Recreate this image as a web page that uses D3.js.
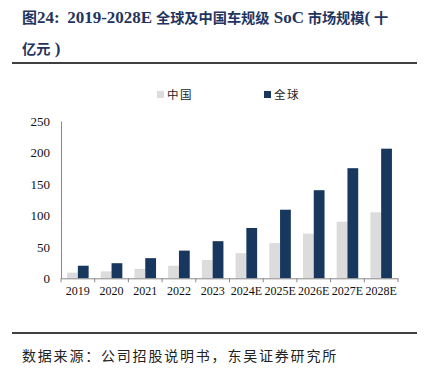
<!DOCTYPE html>
<html><head><meta charset="utf-8">
<script src="https://cdn.jsdelivr.net/npm/d3@7"></script>
<style>body{margin:0;background:#fff}svg{display:block}</style>
</head><body>
<script>
const categories = ["2019","2020","2021","2022","2023","2024E","2025E","2026E","2027E","2028E"];
const chinaValues = [9,11,15,20,29,40,56,71,90,105];
const globalValues = [20,24,32,44,59,80,109,140,175,206];
const yTicks = [0,50,100,150,200,250];
const seriesNames = ["中国","全球"];
const colors = ["#dcdcdc","#17375e"];

const W=430,H=368;
const svg=d3.select("body").append("svg").attr("width",W).attr("height",H);

// title: mixed-size runs
const titleRuns=[
  ["图",15,"cjk"],["24:",17,"lat"],["\u00a0\u00a0",15,"lat"],["2019-2028E",17,"lat"],["\u00a0",15,"lat"],
  ["全球及中国车规级",14.2,"cjk"],["\u00a0",17,"lat"],["SoC",17,"lat"],["\u00a0",15,"lat"],["市场规模",14.2,"cjk"],["(",17,"lat"],["\u00a0",15,"lat"],["十",14.2,"cjk"]
];
const fam={cjk:"'Noto Sans CJK SC',sans-serif",lat:"'Liberation Serif',serif"};
const t1=svg.append("text").attr("x",22).attr("y",23).attr("fill","#1f3560").attr("font-weight","bold");
titleRuns.forEach(r=>t1.append("tspan").attr("font-size",r[1]).attr("font-family",fam[r[2]]).text(r[0]));
const t2=svg.append("text").attr("x",22).attr("y",54).attr("fill","#1f3560").attr("font-weight","bold");
[["亿元",14.2,"cjk"],["\u00a0)",17,"lat"]].forEach(r=>t2.append("tspan").attr("font-size",r[1]).attr("font-family",fam[r[2]]).text(r[0]));

svg.append("line").attr("x1",12).attr("x2",417).attr("y1",63).attr("y2",63).attr("stroke","#000").attr("stroke-width",1.5);
svg.append("line").attr("x1",12).attr("x2",417).attr("y1",333).attr("y2",333).attr("stroke","#000").attr("stroke-width",1.5);
svg.append("text").attr("x",22).attr("y",361).attr("font-family","'Noto Sans CJK SC',sans-serif")
  .attr("font-size",14).attr("letter-spacing",1.8).attr("fill","#222").text("数据来源：公司招股说明书，东吴证券研究所");

const x=d3.scaleBand().domain(categories).range([61,398]).paddingInner(0.36).paddingOuter(0.18);
const y=d3.scaleLinear().domain([0,250]).range([278.3,121]);
const x1=d3.scaleBand().domain(seriesNames).range([0,x.bandwidth()]).padding(0);

const g=svg.append("g");
categories.forEach((c,i)=>{
  [chinaValues[i],globalValues[i]].forEach((v,j)=>{
    g.append("rect").attr("x",x(c)+x1(seriesNames[j])).attr("width",x1.bandwidth())
      .attr("y",y(v)).attr("height",y(0)-y(v)).attr("fill",colors[j]);
  });
});

// y axis
const ya=svg.append("g").attr("transform","translate(61,0)")
  .call(d3.axisLeft(y).tickValues(yTicks).tickSize(0).tickPadding(11));
ya.select(".domain").attr("stroke","#888");
ya.selectAll("text").attr("font-family","'Liberation Serif',serif").attr("font-size",13).attr("fill","#111");

// x axis
const xa=svg.append("g").attr("transform",`translate(0,${y(0)})`)
  .call(d3.axisBottom(x).tickSize(0).tickPadding(8));
xa.select(".domain").attr("stroke","#888");
xa.selectAll("text").attr("font-family","'Liberation Serif',serif").attr("font-size",12).attr("fill","#111");
const bounds=d3.range(categories.length+1).map(i=>61+i*(337/categories.length));
svg.append("g").selectAll("line").data(bounds).join("line")
  .attr("x1",d=>d).attr("x2",d=>d).attr("y1",y(0)).attr("y2",y(0)+4).attr("stroke","#888");

// legend
const lg=svg.append("g");
const lx=[157,264];
seriesNames.forEach((n,i)=>{
  lg.append("rect").attr("x",lx[i]).attr("y",91).attr("width",7).attr("height",7).attr("fill",colors[i]);
  lg.append("text").attr("x",lx[i]+10).attr("y",99).attr("font-family","'Noto Sans CJK SC',sans-serif")
    .attr("font-size",11.5).attr("letter-spacing",1.5).attr("fill","#222").text(n);
});
</script>
</body></html>
